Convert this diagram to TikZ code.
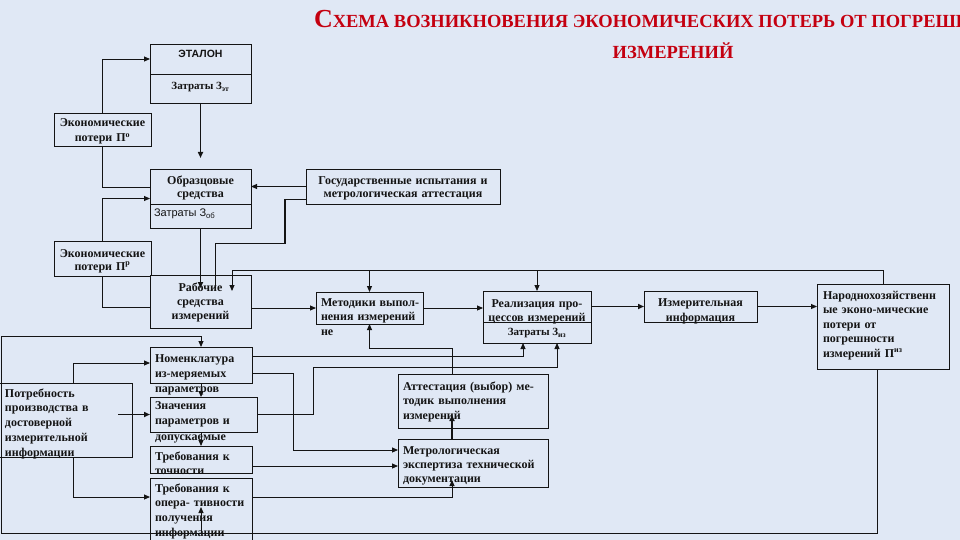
\documentclass[tikz,border=0pt]{standalone}
\usepackage{fontspec}
\setmainfont{Liberation Serif}
\newfontfamily\sansf{Liberation Sans}
\usetikzlibrary{arrows.meta,calc}
\definecolor{bg}{RGB}{224,232,245}
\definecolor{ttl}{RGB}{196,0,16}
\definecolor{ink}{RGB}{20,20,20}
\newcommand\bfnt[1]{\fontsize{12}{#1}\selectfont\bfseries\lineskiplimit=-30pt\lineskip=0pt}
\newcommand\mkbox[5]{\node[box,minimum width=#4pt,minimum height=#5pt] (#1) at (#2,#3) {};}
\newcommand\bt[7]{\node[tx,text width=#5pt,align=#4,font={\bfnt{#6}}] (#1) at (#2,#3) {\rule{0pt}{9pt}#7};}
\tikzset{
 box/.style={draw=ink,line width=0.9pt,fill=bg,inner sep=0pt,outer sep=0pt,anchor=north west},
 tx/.style={inner sep=0pt,outer sep=0pt,anchor=north west,text=ink},
 ln/.style={draw=ink,line width=0.9pt},
 thk/.style={draw=ink,line width=1.8pt},
 arr/.style={-{Triangle[length=6pt,width=5pt]}},
}
\begin{document}
\begin{tikzpicture}[x=1pt,y=-1pt]
\useasboundingbox (0,0) rectangle (960,540);
\clip (0,0) rectangle (960,540);
\fill[bg] (0,0) rectangle (960,540);
% title
\node[tx,anchor=base west,text=ttl,font=\fontsize{18.5}{20}\selectfont\bfseries] (title1) at (314,28)
  {{\fontsize{26}{28}\selectfont С}ХЕМА ВОЗНИКНОВЕНИЯ ЭКОНОМИЧЕСКИХ ПОТЕРЬ ОТ ПОГРЕШНОСТЕЙ};
\node[tx,anchor=base,text=ttl,font=\fontsize{18.5}{20}\selectfont\bfseries] (title2) at (673,59) {ИЗМЕРЕНИЙ};
% boxes
\mkbox{et}{150}{44}{101}{59}
\mkbox{peo}{54}{113}{97}{33}
\mkbox{obr}{150}{169}{101}{59}
\mkbox{gos}{306}{169}{194}{35}
\mkbox{pep}{54}{241}{97}{35}
\mkbox{rab}{150}{275}{101}{53}
\mkbox{met}{316}{292}{107}{32}
\mkbox{real}{483}{291}{108}{52}
\mkbox{izi}{644}{291}{113}{31}
\mkbox{nar}{817}{284}{132}{85}
\mkbox{nom}{150}{347}{102}{36}
\mkbox{zna}{150}{397}{107}{35}
\mkbox{tt}{150}{446}{102}{27}
\mkbox{top}{150}{478}{102}{70}
\mkbox{pot}{-1}{383}{133}{74}
\mkbox{att}{398}{374}{150}{54}
\mkbox{mex}{398}{439}{150}{48}
% dividers
\draw[ln] ([yshift=-30pt]et.north west) -- ([yshift=-30pt]et.north east);
\draw[ln] ([yshift=-35pt]obr.north west) -- ([yshift=-35pt]obr.north east);
\draw[ln] ([yshift=-31pt]real.north west) -- ([yshift=-31pt]real.north east);
% texts
\node[tx,anchor=center,font=\sansf\bfseries\fontsize{10.5}{12}\selectfont] (etT) at ([yshift=-10pt]et.north) {ЭТАЛОН};
\node[tx,anchor=center,font=\fontsize{11}{13}\selectfont\bfseries] (etZ) at ([yshift=-43pt]et.north) {Затраты З\textsubscript{эт}};
\bt{peoT}{54}{118}{center}{97}{15}{Экономические\\потери П\textsuperscript{о}}
\bt{obrT}{150}{176}{center}{101}{13}{Образцовые\\средства}
\node[tx,anchor=west,font=\sansf\fontsize{11}{13}\selectfont] (obrZ) at ([xshift=4pt,yshift=-45pt]obr.north west) {Затраты З\textsubscript{об}};
\bt{gosT}{306}{176}{center}{194}{13}{Государственные испытания и\\метрологическая аттестация}
\bt{pepT}{54}{248}{center}{97}{13}{Экономические\\потери П\textsuperscript{р}}
\bt{rabT}{150}{282}{center}{101}{14}{Рабочие\\средства\\измерений}
\bt{metT}{321}{297}{left}{150}{14.5}{Методики выпол-\\нения измерений\\не}
\bt{realT}{483}{298}{center}{108}{14}{Реализация про-\\цессов измерений}
\node[tx,anchor=center,font=\fontsize{11}{13}\selectfont\bfseries] (realZ) at ([yshift=-42pt]real.north) {Затраты З\textsubscript{из}};
\bt{iziT}{644}{297}{center}{113}{15}{Измерительная\\информация}
\bt{narT}{823}{290}{left}{140}{14.5}{Народнохозяйственн\\ые эконо-мические\\потери от\\погрешности\\измерений П\textsuperscript{из}}
\bt{nomT}{155}{353}{left}{150}{15}{Номенклатура\\из-меряемых\\параметров}
\bt{znaT}{155}{400}{left}{150}{15.5}{Значения\\параметров и\\допускаемые}
\bt{ttT}{155}{451}{left}{150}{14}{Требования к\\точности}
\bt{topT}{155}{483}{left}{150}{14.7}{Требования к\\опера- тивности\\получения\\информации}
\bt{potT}{5}{388}{left}{150}{14.8}{Потребность\\производства в\\достоверной\\измерительной\\информации}
\bt{attT}{403}{381}{left}{160}{14.5}{Аттестация (выбор) ме-\\тодик выполнения\\измерений}
\bt{mexT}{403}{445}{left}{160}{14}{Метрологическая\\экспертиза технической\\документации}
% connectors
\coordinate (bl) at (1,533);
\draw[ln,arr] (peo.north) |- ([yshift=14.5pt]et.west);
\draw[thk,arr] (et.south) -- ([yshift=11pt]obr.north);
\draw[ln] (peo.south) |- ([yshift=11.5pt]obr.west);
\draw[ln,arr] (pep.north) |- (obr.west);
\draw[ln,arr] (gos.west) -- (obr.east |- gos.west);
\draw[ln] ([yshift=-12.5pt]gos.west) -| ++(-21,44) -| ([xshift=14.5pt,yshift=-13pt]rab.north);
\draw[thk] ([yshift=-12.5pt]gos.west) ++(-21,0) -- ++(0,44);
\draw[thk,arr] (obr.south) -- ([yshift=-13pt]rab.north);
\draw[ln,arr] (nar.north) -- ++(0,-14) -| ([xshift=31.5pt,yshift=-16pt]rab.north);
\draw[ln,arr] ([yshift=22pt]met.north) -- (met.north);
\draw[ln,arr] ([yshift=21pt]real.north) -- (real.north);
\draw[ln] (pep.south) |- ([yshift=-5.5pt]rab.west);
\draw[ln,arr] (rab.east |- met.west) -- (met.west);
\draw[ln,arr] (met.east) -- (real.west |- met.east);
\draw[thk,arr] (real.east |- izi.west) -- (izi.west);
\draw[ln,arr] (izi.east) -- (nar.west |- izi.east);
\draw[ln,arr] ([xshift=-6pt]nar.south) |- (bl) |- ([yshift=11pt]nom.north) -- (nom.north);
\draw[ln,arr] (top.north |- bl) -- ([yshift=-29pt]top.north);
\draw[ln,arr] (nom.south) -- (nom.south |- zna.north);
\draw[ln,arr] (nom.south |- zna.south) -- (nom.south |- tt.north);
\draw[ln,arr] ([xshift=7.5pt]pot.north) |- ([yshift=2pt]nom.west);
\draw[thk,arr] ([xshift=-14pt]pot.east |- zna.west) -- (zna.west);
\draw[ln,arr] ([xshift=7.5pt]pot.south) |- ([yshift=16pt]top.west);
\draw[ln,arr] ([yshift=9pt]nom.east) -| ([xshift=-14pt]real.south);
\draw[ln,arr] ([yshift=-8pt]nom.east) -- ++(41,0) |- ([yshift=13pt]mex.west);
\draw[ln,arr] (zna.east) -- ++(56,0) |- ([xshift=20pt,yshift=-24pt]real.south) -- ([xshift=20pt]real.south);
\draw[ln,arr] ([yshift=-6.5pt]tt.east) -- ([yshift=-6.5pt]tt.east -| mex.west);
\draw[ln,arr] ([yshift=-19pt]top.north east) -| ([xshift=-21pt,yshift=7pt]mex.south);
\draw[thk,arr] ([xshift=-21pt]mex.north) -- ([xshift=-21pt,yshift=13pt]att.south);
\draw[ln,arr] ([xshift=-21pt]att.north) |- ([yshift=-24pt]met.south) -- (met.south);
\end{tikzpicture}
\end{document}
